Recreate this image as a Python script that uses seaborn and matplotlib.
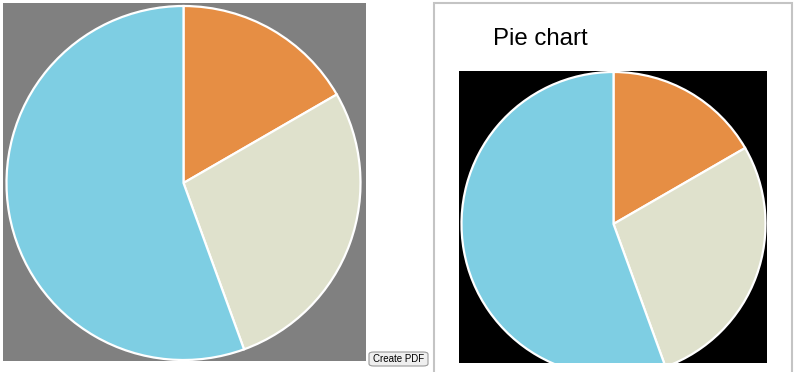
import matplotlib
matplotlib.use("Agg")
import matplotlib.pyplot as plt
import seaborn as sns
from matplotlib.patches import Rectangle, FancyBboxPatch

# Data
categories = ["A", "B", "C"]
values = [3, 5, 10]
colors_hex = ["#E68E44", "#DFE1CC", "#7ECEE3"]
title_text = "Pie chart"
button_text = "Create PDF"

sns.set_style("white")
plt.rcParams["font.family"] = ["Liberation Sans", "DejaVu Sans"]
palette = sns.color_palette(colors_hex)

W, H = 800, 372
fig = plt.figure(figsize=(W / 100, H / 100), dpi=100)
fig.patch.set_facecolor("white")


def px_axes(x0, y0, x1, y1):
    return fig.add_axes([x0 / W, 1 - y1 / H, (x1 - x0) / W, (y1 - y0) / H])


def draw_pie(ax, bg, box, center, r):
    x0, y0, x1, y1 = box
    cx, cy = center
    wedges, _ = ax.pie(values, colors=palette, startangle=90, counterclock=False,
                       wedgeprops=dict(edgecolor="white", linewidth=1.6))
    for w in wedges:
        w.set_clip_on(True)
        w.set_clip_path(ax.patch)
    ax.set_aspect("auto")
    ax.set_xlim((x0 - cx) / r, (x1 - cx) / r)
    ax.set_ylim(-(y1 - cy) / r, (cy - y0) / r)
    ax.set_frame_on(True)
    ax.set_facecolor(bg)
    for s in ax.spines.values():
        s.set_visible(False)
    ax.set_xticks([])
    ax.set_yticks([])


# Left panel (grey)
ax1 = px_axes(3, 3, 366, 361)
draw_pie(ax1, "#808080", (3, 3, 366, 361), (183.5, 183), 177)

# Right panel border
fig.add_artist(Rectangle((434 / W, -0.05), (792 - 434) / W, 1.05 - 3 / H,
                         transform=fig.transFigure, fill=False,
                         edgecolor="#C4C4C4", linewidth=1.5))

# Right panel (black)
ax2 = px_axes(459, 71, 767, 363)
draw_pie(ax2, "black", (459, 71, 767, 363), (613.5, 224), 152)

# Title
fig.text(493 / W, 1 - 45 / H, title_text, fontsize=17.3, color="black",
         ha="left", va="baseline")

# Button
fig.add_artist(FancyBboxPatch((369 / W, 1 - 366 / H), (428 - 369) / W, (366 - 352) / H,
                              boxstyle="round,pad=0,rounding_size=0.006",
                              transform=fig.transFigure, facecolor="#EFEFEF",
                              edgecolor="#9A9A9A", linewidth=0.8))
fig.text(398.5 / W, 1 - 359 / H, button_text, fontsize=7, color="black",
         ha="center", va="center")

fig.savefig("out.png", dpi=100)
